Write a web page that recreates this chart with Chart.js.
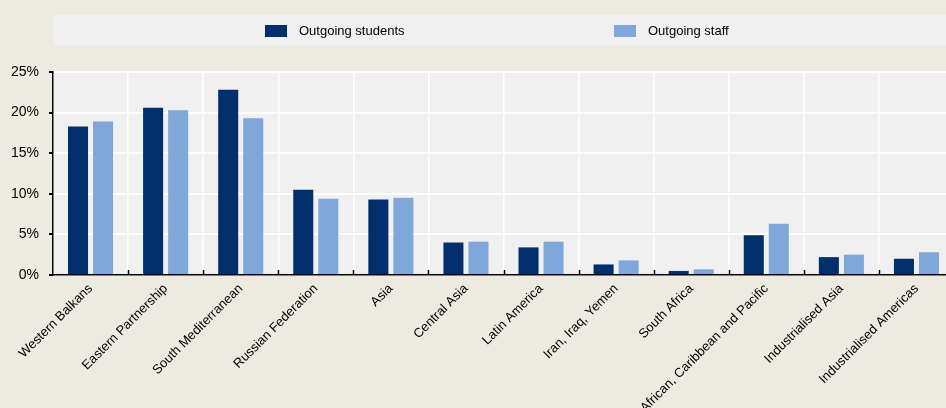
<!DOCTYPE html>
<html>
<head>
<meta charset="utf-8">
<script src="https://cdn.jsdelivr.net/npm/chart.js@4"></script>
<style>
  body { margin: 0; background: #EDEBE1; overflow: hidden; }
  #wrap { width: 962px; height: 408px; position: relative; }
</style>
</head>
<body>
<div id="wrap"><canvas id="myChart"></canvas></div>
<script>
const categories = [
  "Western Balkans", "Eastern Partnership", "South Mediterranean", "Russian Federation",
  "Asia", "Central Asia", "Latin America", "Iran, Iraq, Yemen", "South Africa",
  "African, Caribbean and Pacific", "Industrialised Asia", "Industrialised Americas"
];
const outgoingStudents = [18.3, 20.6, 22.8, 10.5, 9.3, 4.0, 3.4, 1.3, 0.5, 4.9, 2.2, 2.0];
const outgoingStaff = [18.9, 20.3, 19.3, 9.4, 9.5, 4.1, 4.1, 1.8, 0.7, 6.3, 2.5, 2.8];
const yTicks = [0, 5, 10, 15, 20, 25];

const FONT = "Arial, 'Liberation Sans', sans-serif";

// grey plot background + inward x ticks + legend band
const decor = {
  id: "decor",
  beforeDraw(chart) {
    const { ctx, chartArea } = chart;
    ctx.save();
    ctx.fillStyle = "#F0F0F0";
    ctx.fillRect(chartArea.left, chartArea.top, chartArea.right - chartArea.left, chartArea.bottom - chartArea.top);
    // legend band
    ctx.fillRect(54, 15, 892, 31);
    const items = [
      { x: 265, ds: chart.data.datasets[0] },
      { x: 614, ds: chart.data.datasets[1] },
    ];
    ctx.font = "13px " + FONT;
    ctx.textBaseline = "middle";
    items.forEach((it) => {
      ctx.fillStyle = it.ds.backgroundColor;
      ctx.fillRect(it.x, 25, 22, 12);
      ctx.fillStyle = "#000";
      ctx.fillText(it.ds.label, it.x + 34, 31);
    });
    ctx.restore();
  },
  afterDatasetsDraw(chart) {
    const { ctx, chartArea } = chart;
    const n = chart.data.labels.length;
    const step = (chartArea.right - chartArea.left) / n;
    ctx.save();
    ctx.strokeStyle = "#000";
    ctx.lineWidth = 1.5;
    ctx.beginPath();
    for (let i = 1; i < n; i++) {
      const x = Math.round(chartArea.left + i * step) + 0.5;
      ctx.moveTo(x, chartArea.bottom - 5);
      ctx.lineTo(x, chartArea.bottom);
    }
    ctx.stroke();
    ctx.restore();
  },
};

const ctx = document.getElementById("myChart").getContext("2d");
const myChart = new Chart(ctx, {
  type: "bar",
  data: {
    labels: categories,
    datasets: [
      {
        label: "Outgoing students",
        data: outgoingStudents,
        backgroundColor: "#002F6C",
        barPercentage: 0.8,
        categoryPercentage: 0.667,
      },
      {
        label: "Outgoing staff",
        data: outgoingStaff,
        backgroundColor: "#7FA7D9",
        barPercentage: 0.8,
        categoryPercentage: 0.667,
      },
    ],
  },
  options: {
    responsive: true,
    maintainAspectRatio: false,
    animation: false,
    layout: { padding: { top: 72, left: 0, right: 8, bottom: 0 } },
    plugins: { legend: { display: false }, tooltip: { enabled: false } },
    scales: {
      x: {
        grid: { offset: true, color: "#FFFFFF", lineWidth: 1.5, drawTicks: false },
        border: { color: "#000", width: 1.5 },
        ticks: {
          autoSkip: false,
          minRotation: 45,
          maxRotation: 45,
          padding: 6,
          color: "#000",
          font: { family: FONT, size: 13 },
        },
        afterFit(scale) { scale.height = 133; },
      },
      y: {
        min: 0,
        max: 25,
        afterBuildTicks(scale) { scale.ticks = yTicks.map((v) => ({ value: v })); },
        grid: { color: "#FFFFFF", lineWidth: 2, tickColor: "#000", tickLength: 4 },
        border: { color: "#000", width: 1.5 },
        ticks: {
          padding: 10,
          color: "#000",
          font: { family: FONT, size: 14 },
          callback: (v) => v + "%",
        },
        afterFit(scale) { scale.width = 53; },
      },
    },
  },
  plugins: [decor],
});
</script>
</body>
</html>
